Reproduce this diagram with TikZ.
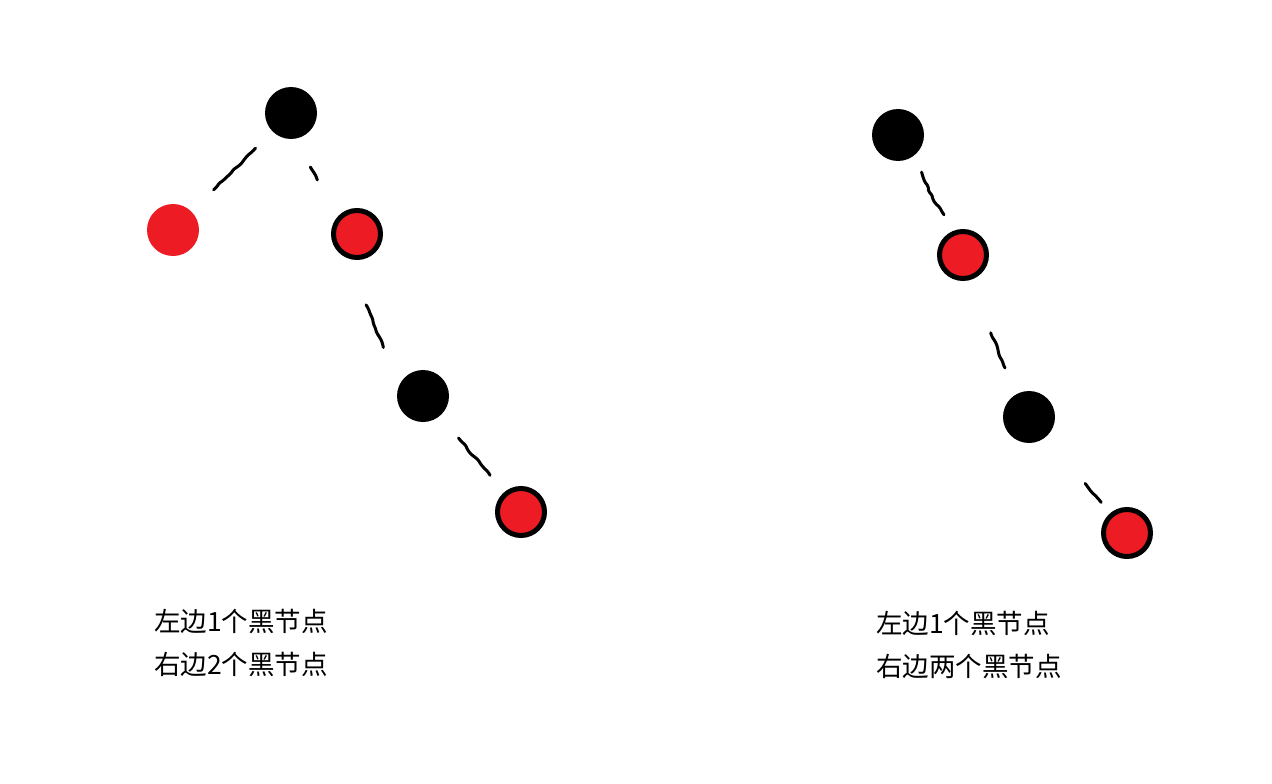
\documentclass[tikz,border=0pt]{standalone}
\usepackage{fontspec}
\newfontfamily\cjk{Noto Sans CJK SC}
\usetikzlibrary{decorations.pathmorphing}
\definecolor{paintred}{HTML}{ED1C24}
\tikzset{
  blacknode/.style={circle, fill=black, minimum size=52pt, inner sep=0pt, outer sep=0pt},
  rednode/.style={circle, fill=paintred, draw=black, line width=5pt, minimum size=47pt, inner sep=0pt},
  plainred/.style={circle, fill=paintred, minimum size=52pt, inner sep=0pt, outer sep=0pt},
  link/.style 2 args={line width=3pt, line cap=round, line join=round, rounded corners=1.5pt, decorate,
    decoration={random steps, segment length=5pt, amplitude=1pt, pre=moveto, pre length=#1, post=moveto, post length=#2}},
  note/.style={anchor=base west, inner sep=0pt, font=\cjk\fontsize{26.5}{30}\selectfont}
}
\begin{document}
\begin{tikzpicture}[x=1pt,y=-1pt]
\pgfmathsetseed{7}
\fill[white] (0,0) rectangle (1272,784);
\useasboundingbox (0,0) rectangle (1272,784);
% left tree
\node[blacknode] (b1) at (291,113) {};
\node[plainred] (r1) at (173,230) {};
\node[rednode] (r2) at (357,234) {};
\node[blacknode] (b2) at (423,396) {};
\node[rednode] (r3) at (521,512) {};
\draw[link={24pt}{31pt}] (b1) -- (r1);
\draw[link={31pt}{40pt}, transform canvas={shift={(-8,4)}}] (b1) -- (r2);
\draw[link={43pt}{34pt}, transform canvas={shift={(-17,7)}}] (r2) -- (b2);
\draw[link={29pt}{22pt}] (b2) -- (r3);
% right tree
\node[blacknode] (b3) at (898,135) {};
\node[rednode] (r4) at (963,255) {};
\node[blacknode] (b4) at (1029,417) {};
\node[rednode] (r5) at (1127,533) {};
\draw[link={17pt}{21pt}, transform canvas={shift={(11,-4)}}] (b3) to[bend right=12] (r4);
\draw[link={58pt}{27pt}, transform canvas={shift={(-4,0)}}] (r4) -- (b4);
\draw[link={61pt}{14pt}] (b4) -- (r5);
% captions
\node[note] (left1) at (154,631) {左边1个黑节点};
\node[note] (left2) at (154,674) {右边2个黑节点};
\node[note] (right1) at (876,633) {左边1个黑节点};
\node[note] (right2) at (876,676) {右边两个黑节点};
\end{tikzpicture}
\end{document}
